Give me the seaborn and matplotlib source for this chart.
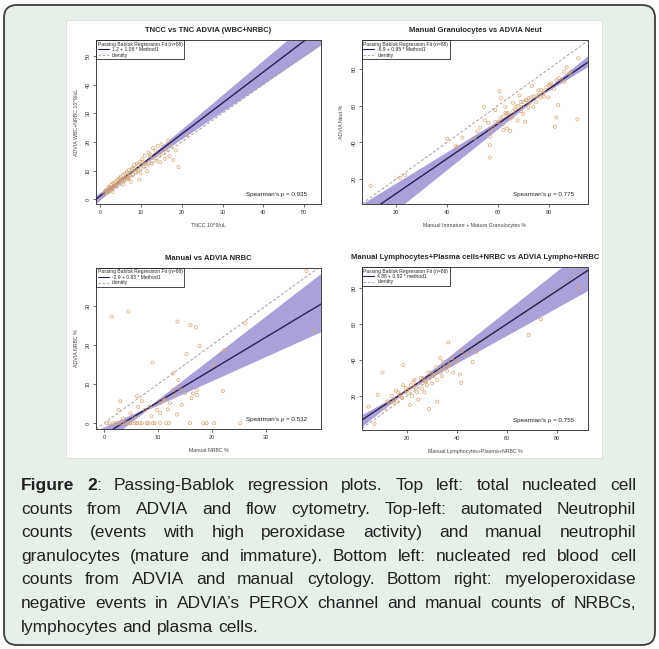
import numpy as np
import seaborn as sns
import matplotlib.pyplot as plt
from matplotlib.patches import FancyBboxPatch, Rectangle
from matplotlib.lines import Line2D

# ---- data ----
# panel 1: TNCC vs TNC ADVIA
tncc_x = [1.0, 1.4, 1.8, 2.0, 2.3, 2.6, 2.9, 3.1, 3.4, 3.6, 3.9, 4.1, 4.3, 4.6, 4.8, 5.0, 5.3, 5.5,
          5.8, 6.0, 6.3, 6.5, 6.8, 7.0, 7.3, 7.5, 7.8, 8.0, 8.3, 8.6, 8.9, 9.2, 9.5, 9.7, 10.0, 10.3,
          10.6, 10.9, 11.2, 11.5, 11.8, 12.0, 12.3, 12.6, 12.9, 13.2, 13.5, 13.8, 14.1, 14.4, 14.7,
          15.0, 15.4, 15.8, 16.2, 16.6, 17.0, 17.4, 17.9, 18.5, 19.2, 21.3, 5.6, 9.9, 3.0, 6.9,
          1.2, 1.6, 2.1, 2.4, 2.8, 3.3, 3.7, 4.4, 4.9, 5.4, 6.1, 6.6, 7.1, 7.6, 8.1, 8.8, 9.3,
          10.2, 11.0, 12.2]
tncc_y = [2.0, 3.3, 2.6, 4.4, 3.2, 4.9, 3.8, 5.6, 4.2, 6.0, 5.0, 6.8, 5.2, 7.3, 5.9, 7.9, 6.3, 8.4,
          6.8, 8.9, 7.2, 9.6, 7.6, 10.2, 8.3, 6.1, 10.8, 8.6, 11.9, 9.4, 12.4, 10.0, 6.8, 13.1, 11.0, 14.0,
          11.6, 15.2, 12.2, 9.8, 16.4, 13.1, 15.6, 12.4, 17.8, 14.3, 16.9, 13.2, 18.6, 15.4, 12.9,
          19.2, 16.2, 14.1, 17.3, 20.3, 15.0, 18.4, 13.6, 17.0, 11.2, 22.4, 5.1, 9.0, 2.5, 7.0,
          2.9, 2.3, 3.9, 4.3, 3.7, 5.3, 4.6, 6.6, 7.1, 6.4, 7.3, 9.0, 8.1, 9.9, 10.6, 10.1, 11.9,
          12.8, 12.4, 14.9]

# panel 2: granulocytes vs neutrophils
gran_x = [10, 21.6, 23.5, 40, 43.3, 44, 46, 50.8, 53, 54.6, 56.3, 57, 56.8, 56.8, 59, 60.6, 61.2,
          62.2, 62.9, 63.5, 63.5, 64.8, 65.9, 65.9, 66.8, 67.7, 68.5, 69.4, 70, 70.7, 71.3, 72.4,
          73.3, 73.9, 75, 75.9, 76.8, 77.8, 79.8, 80.4, 83, 83.7, 83, 82.4, 86, 87, 88.6, 91.2, 91.5,
          58, 60, 61, 64, 66, 68, 69, 71, 72, 74, 76, 78, 79, 81, 85, 52, 55, 62,
          62, 63, 65, 67, 69, 70, 72, 73, 75, 77, 78, 80, 82, 84, 86, 88, 57, 59]
neut_y = [16.3, 20.7, 22, 42, 38, 37.6, 42.6, 42.2, 48, 59.4, 50.6, 43, 38.5, 31.7, 57.6, 67.9, 64,
          46.7, 59.4, 55.5, 47.6, 46.3, 61.6, 54, 58, 52, 65.6, 59.4, 55.5, 51.3, 63, 61.3,
          70.7, 59.4, 65.2, 68.4, 64.5, 66.6, 64.5, 71.8, 74, 60.3, 53.6, 48.5, 78.5, 80.9, 78.5, 52.5, 85.8,
          48, 51, 53, 56, 57, 60, 62, 63, 64, 65, 66, 68, 70, 72, 74, 46, 52, 54,
          50, 56, 53, 59.5, 57, 62, 59, 64.5, 62, 68.5, 65, 71, 69, 75, 73, 77.5, 46, 51]

# panel 3: NRBC
nrbc_x = [1.4, 4.5, 13.6, 16, 17, 17.7, 15.3, 9, 12.8, 13.8, 20.3, 22.3, 22, 17.2, 12.8, 16.5, 26.1,
          37.5, 38.8, 0.5, 1.7, 2.7, 3.3, 4.2, 5.1, 6.1, 7, 7.9, 9.4, 10.4, 11.5, 15.9, 18.4, 20.4,
          25.2, 2.7, 3, 6.1, 7, 7.6, 8.5, 9.8, 10.4, 10.4, 11.3, 12.2, 13.1, 13.5, 14.4, 15, 16.2,
          17.2, 5.5, 11, 14, 1, 2.2, 3.8, 4.8, 5.8, 6.6, 8.2, 9, 12, 19, 3.5, 4.9, 6.3, 8.8, 11.8]
nrbc_y = [27.3, 28.5, 26, 25.1, 24.5, 19.7, 17.7, 15.5, 12.7, 11, 14.9, 18.7, 8.2, 8.5, 8.5, 7.6, 25.6,
          38.9, 23.6, 0, 0, 0, 0, 0, 0, 0, 0, 0, 0, 0, 0, 0, 0, 0,
          0, 3.4, 5.6, 6.9, 5.6, 3.4, 4.3, 3.4, 5.1, 2.6, 6, 5.1, 6.9, 2.2, 4.7, 7.7, 6.4,
          7.2, 1.5, 5.8, 9, 0, 0, 0, 0, 0, 0, 0, 0, 0, 0, 1.2, 2.5, 4.2, 1.8, 3.5]

# panel 4: lymphocytes
lymph_x = [88.5, 73.5, 68.6, 36.5, 18.5, 10.2, 46.3, 47.9, 33.3, 41.1, 41.7, 32.1, 28.8, 21.2, 8.3, 4.6,
           7, 13, 14, 15, 16, 17, 18, 19, 20, 21, 22, 23, 24, 25, 26, 27, 28, 29, 30, 31, 32, 33, 34,
           35, 36, 37, 15.5, 18.5, 22.5, 24.5, 26.5, 29.5, 23, 27, 11, 38.5,
           12, 14.5, 16.5, 17.5, 19.5, 20.5, 21.5, 23.5, 25.5, 27.5, 28.5, 30.5, 31.5, 33.5, 34.5,
           36.5, 38, 40, 42, 44]
lymph_y = [80.4, 62.6, 53.9, 49.8, 37.2, 33.1, 38.9, 44.4, 41.1, 31.9, 27.3, 16.9, 12.8, 15, 20.6, 14.1,
           4.5, 16, 20, 18, 17, 21, 19, 22, 23, 24, 20, 25, 22, 27, 24, 28, 26, 30, 27, 32, 29, 35, 31,
           36, 34, 38, 23, 26, 28, 18, 30, 33, 29, 22, 13, 33,
           17, 16.5, 22, 19.5, 24.5, 21.5, 26, 24.5, 30, 28, 33, 31, 36, 33.5, 39,
           36.5, 41, 39.5, 45, 43]

# fitted lines (intercept, slope) and CI band (pivot x, slope lo, slope hi)
intercepts = [1.2, -6.9, -2.9, 4.88]
slopes = [1.08, 0.95, 0.83, 0.92]
band_pivot = [8, 75, 8, 20]
band_slope_lo = [0.96, 0.85, 0.62, 0.77]
band_slope_hi = [1.20, 1.11, 1.065, 1.10]
fit_labels = ["1.2 + 1.08 * Method1", "-6.9 + 0.95 * Method1",
              "-2.9 + 0.83 * Method1", "4.88 + 0.92 * method1"]
spearman = ["0.935", "0.775", "0.532", "0.755"]

titles = ["TNCC vs TNC ADVIA (WBC+NRBC)", "Manual Granulocytes vs ADVIA Neut",
          "Manual vs ADVIA NRBC", "Manual Lymphocytes+Plasma cells+NRBC vs ADVIA Lympho+NRBC"]
xlabels = ["TNCC 10^9/uL", "Manual Immature + Mature Granulocytes %",
           "Manual NRBC %", "Manual Lymphocytes+Plasma+NRBC %"]
ylabels = ["ADVIA WBC+NRBC 10^9/uL", "ADVIA Neut %", "ADVIA NRBC %", ""]
ticks = [[0, 10, 20, 30, 40, 50], [20, 40, 60, 80], [0, 10, 20, 30], [20, 40, 60, 80]]

caption_lines = [
    "Figure 2: Passing-Bablok regression plots. Top left: total nucleated cell",
    "counts from ADVIA and flow cytometry. Top-left: automated Neutrophil",
    "counts (events with high peroxidase activity) and manual neutrophil",
    "granulocytes (mature and immature). Bottom left: nucleated red blood cell",
    "counts from ADVIA and manual cytology. Bottom right: myeloperoxidase",
    "negative events in ADVIA\u2019s PEROX channel and manual counts of NRBCs,",
    "lymphocytes and plasma cells.",
]

# ---- style ----
sns.set_style("white")
plt.rcParams['font.family'] = ['Liberation Sans', 'DejaVu Sans']

W, H = 659, 649
fig = plt.figure(figsize=(W / 100, H / 100), dpi=100)
fig.patch.set_facecolor('white')

# outer rounded box + white inset holding the plots
box = FancyBboxPatch((0.04, 0.04), 6.51, 6.40, boxstyle="round,pad=0,rounding_size=0.13",
                     transform=fig.dpi_scale_trans, facecolor='#e6f0e8', edgecolor='#3c3c3c',
                     lw=1.3, zorder=-3)
fig.add_artist(box)
inset = Rectangle((0.66, 1.91), 5.36, 4.38, transform=fig.dpi_scale_trans,
                  facecolor='white', edgecolor='#dcdcdc', lw=0.6, zorder=-2)
fig.add_artist(inset)

# axes rectangles (pixels: left, top, right, bottom)
boxes = [(96, 40, 321, 204), (362, 40, 588, 204), (96, 268, 321, 429), (362, 267, 588, 430)]
limits = [((-1.1, 54.2), (-1.7, 55.6)), ((6.6, 95.4), (6.4, 95.8)),
          ((-1.5, 40.2), (-1.5, 39.7)), ((2.0, 92.4), (1.1, 91.7))]
xs_data = [tncc_x, gran_x, nrbc_x, lymph_x]
ys_data = [tncc_y, neut_y, nrbc_y, lymph_y]

band_color = '#9287d0'
line_color = '#2a2050'
ident_color = '#a89f95'
point_color = '#d6a676'

for i in range(4):
    l, t, r, b = boxes[i]
    ax = fig.add_axes([l / W, 1 - b / H, (r - l) / W, (b - t) / H])
    ax.set_facecolor('white')
    (x0, x1), (y0, y1) = limits[i]
    ax.set_xlim(x0, x1)
    ax.set_ylim(y0, y1)

    # confidence band
    gx = np.linspace(x0, x1, 300)
    yc = intercepts[i] + slopes[i] * band_pivot[i]
    e1 = yc + band_slope_lo[i] * (gx - band_pivot[i])
    e2 = yc + band_slope_hi[i] * (gx - band_pivot[i])
    ax.fill_between(gx, np.minimum(e1, e2) - 0.3, np.maximum(e1, e2) + 0.3,
                    color=band_color, alpha=0.78, lw=0, zorder=1)

    ax.axline((0, 0), slope=1, color=ident_color, ls=(0, (3, 2)), lw=0.7, zorder=2)
    ax.axline((0, intercepts[i]), slope=slopes[i], color=line_color, lw=1.0, zorder=3)

    sns.scatterplot(x=xs_data[i], y=ys_data[i], ax=ax, marker='o', s=5,
                    facecolor='none', edgecolor=point_color, linewidth=0.5, zorder=4)

    ax.set_xticks(ticks[i])
    ax.set_yticks(ticks[i])
    ax.tick_params(bottom=True, left=True, direction='out', length=2.5, width=0.5,
                   pad=1.5, labelsize=4, colors='#333333')
    ax.tick_params(axis='y', labelrotation=90)
    for lbl in ax.get_yticklabels():
        lbl.set_va('center')
    for sp in ax.spines.values():
        sp.set_color('#444444')
        sp.set_linewidth(0.7)

    ax.set_title(titles[i], fontsize=5.5, fontweight='bold', pad=6)
    ax.set_xlabel(xlabels[i], fontsize=3.8, color='#444444', labelpad=6)
    ax.set_ylabel(ylabels[i], fontsize=3.8, color='#444444', labelpad=5)

    handles = [Line2D([], [], color=line_color, lw=0.8),
               Line2D([], [], color=ident_color, lw=0.6, ls=(0, (3, 2)))]
    leg = ax.legend(handles, [fit_labels[i], "identity"],
                    title="Passing Bablok Regression Fit (n=88)", loc='upper left',
                    borderaxespad=0, fontsize=3.6, title_fontsize=3.6, frameon=True,
                    fancybox=False, edgecolor='black', framealpha=1, handlelength=2.2,
                    labelspacing=0.1, borderpad=0.3, handletextpad=0.6, alignment='left')
    leg.get_frame().set_linewidth(0.5)

    ax.text(0.94, 0.06, "Spearman's \u03c1 = " + spearman[i], transform=ax.transAxes,
            ha='right', va='center', fontsize=4.5, color='#222222')

# ---- caption, justified word by word ----
cap_family = ['Liberation Sans', 'DejaVu Sans']
cap_size = 12.5
renderer = fig.canvas.get_renderer()


def parts_of(li, wi, word):
    # "Figure 2" is bold, the colon after it is not
    if li == 0 and wi == 0:
        return [(word, 'bold')]
    if li == 0 and wi == 1:
        return [(word[:-1], 'bold'), (word[-1], 'normal')]
    return [(word, 'normal')]


def measure(s, weight, size):
    t = fig.text(0, 0, s, fontsize=size, family=cap_family, weight=weight)
    w = t.get_window_extent(renderer).width
    t.remove()
    return w


left_px, right_px = 21, 636
target = right_px - left_px

# shrink font if a line would not fit
for _ in range(3):
    sp_w = measure("a a", 'normal', cap_size) - measure("aa", 'normal', cap_size)
    widest = 0
    for li, line in enumerate(caption_lines):
        words = line.split(' ')
        tot = sum(measure(s, wt, cap_size) for wi, wd in enumerate(words) for s, wt in parts_of(li, wi, wd))
        widest = max(widest, tot + 0.7 * sp_w * (len(words) - 1))
    if widest <= target:
        break
    cap_size *= target / widest * 0.995

base0, step = 490, 23.6
for li, line in enumerate(caption_lines):
    words = line.split(' ')
    widths = []
    for wi, wd in enumerate(words):
        widths.append([(s, wt, measure(s, wt, cap_size)) for s, wt in parts_of(li, wi, wd)])
    word_w = [sum(p[2] for p in w) for w in widths]
    if li < len(caption_lines) - 1:
        gap = (target - sum(word_w)) / (len(words) - 1)
    else:
        gap = measure("a a", 'normal', cap_size) - measure("aa", 'normal', cap_size)
    x = left_px
    ybase = 1 - (base0 + li * step) / H
    for wi, w in enumerate(widths):
        px = x
        for s, wt, sw in w:
            fig.text(px / W, ybase, s, fontsize=cap_size, family=cap_family, weight=wt,
                     color='#222222', ha='left', va='baseline')
            px += sw
        x += word_w[wi] + gap

fig.savefig('out.png', dpi=100)
